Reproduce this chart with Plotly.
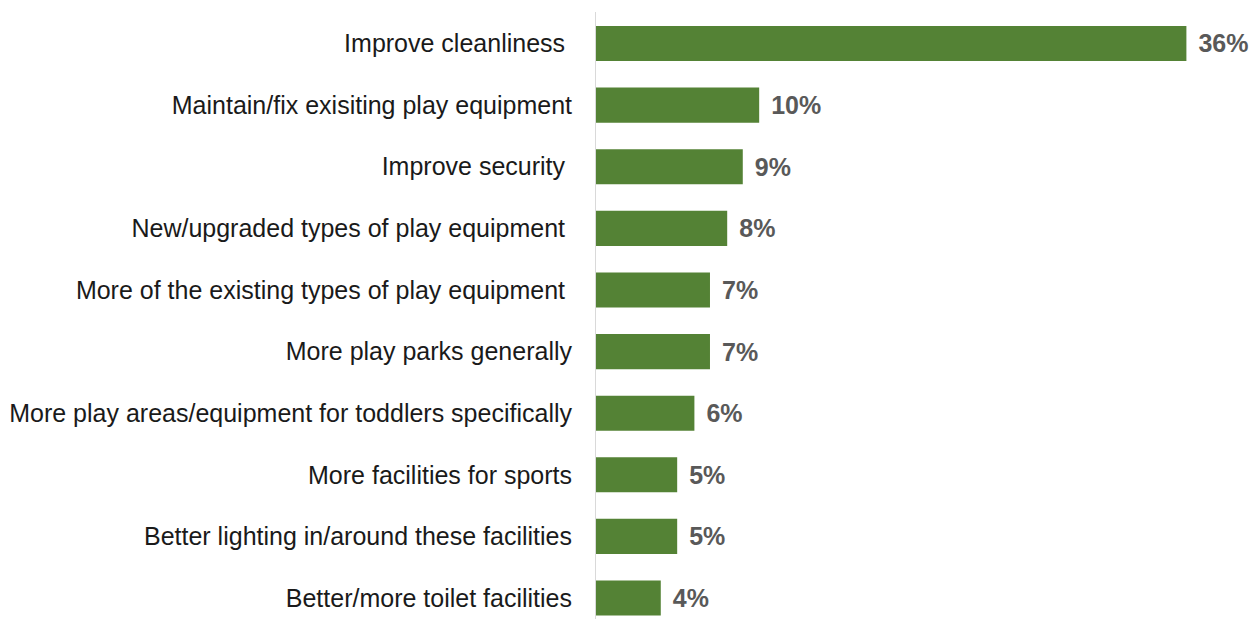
import plotly.graph_objects as go

categories = [
    "Improve cleanliness\u00a0",
    "Maintain/fix exisiting play equipment",
    "Improve security\u00a0",
    "New/upgraded types of play equipment\u00a0",
    "More of the existing types of play equipment\u00a0",
    "More play parks generally",
    "More play areas/equipment for toddlers specifically",
    "More facilities for sports",
    "Better lighting in/around these facilities",
    "Better/more toilet facilities",
]
values = [36.0, 9.95, 8.95, 8.0, 6.95, 6.95, 6.0, 4.95, 4.95, 3.95]
labels = ["36%", "10%", "9%", "8%", "7%", "7%", "6%", "5%", "5%", "4%"]

fig = go.Figure(go.Bar(
    y=categories, x=values, orientation="h",
    marker=dict(color="#548235", line=dict(width=0)),
    text=["\u00a0\u200a" + t for t in labels], textposition="outside", cliponaxis=False,
    textfont=dict(family="Liberation Sans, Arial", size=25, color="#595959", weight="bold"),
    width=0.57,
))

fig.update_layout(
    width=1252, height=619,
    margin=dict(l=596, r=0, t=12, b=0),
    plot_bgcolor="white", paper_bgcolor="white",
    showlegend=False,
    font=dict(family="Liberation Sans, Arial", size=25, color="#262626"),
    xaxis=dict(range=[0, 40], visible=False),
    yaxis=dict(
        categoryorder="array", categoryarray=categories,
        range=[9.34, -0.511],
        showline=True, linecolor="#d9d9d9", linewidth=1,
        ticks="", ticklabelstandoff=18, showgrid=False,
        tickfont=dict(size=25, color="#1a1a1a"),
    ),
)

fig.write_html("out.html")
